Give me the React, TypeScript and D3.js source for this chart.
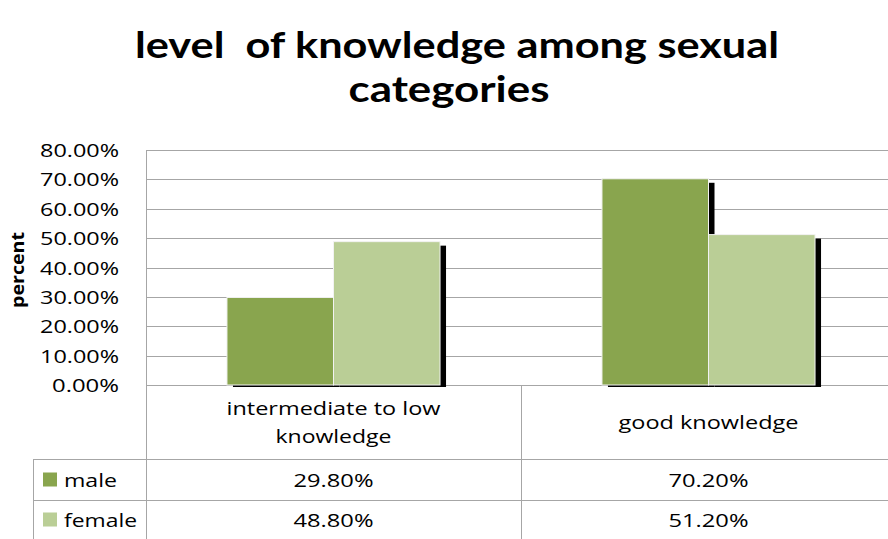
import React from "react";
import * as d3 from "d3";

const categories = ["intermediate to low knowledge", "good knowledge"];
const categoryLines = [["intermediate to low", "knowledge"], ["good knowledge"]];
const seriesNames = ["male", "female"];
const maleValues = [0.298, 0.702];
const femaleValues = [0.488, 0.512];
const yTicks = [0, 0.1, 0.2, 0.3, 0.4, 0.5, 0.6, 0.7, 0.8];
const tableLabels = [["29.80%", "70.20%"], ["48.80%", "51.20%"]];

const COLORS = ["#89A54E", "#BACE96"];
const FONT = "'Open Sans', 'DejaVu Sans', sans-serif";
const TITLE_FONT = "Lato, 'Open Sans', sans-serif";

export default function App() {
  const W = 888, H = 539;
  const left = 146, right = 896, top = 150, bottom = 385;
  const y = d3.scaleLinear().domain([0, 0.8]).range([bottom, top]);
  const x0 = d3.scaleBand<string>().domain(categories).range([left, right]).paddingInner(0).paddingOuter(0);
  const x1 = d3.scaleBand<string>().domain(seriesNames).range([0, x0.bandwidth()]).paddingInner(0).paddingOuter(0.76);
  const series = [maleValues, femaleValues];
  const rowY = [459, 500, 539];
  const grid = "#A6A6A6";
  const fmt = d3.format(".2%");

  const txt = (s: string, x: number, yy: number, len: number, size: number, anchor: string, extra: any = {}) => (
    <text x={x} y={yy} fontSize={size} textAnchor={anchor} textLength={len} lengthAdjust="spacingAndGlyphs" fill="#000" fontFamily={FONT} style={{ whiteSpace: "pre" }} {...extra}>{s}</text>
  );

  return (
    <svg width={W} height={H} style={{ position: "absolute", left: 0, top: 0, background: "#fff" }}>
      {/* title */}
      {txt("level  of knowledge among sexual", 457, 58, 644, 36, "middle", { fontWeight: 700, fontFamily: TITLE_FONT })}
      {txt("categories", 449, 102, 201, 36, "middle", { fontWeight: 700, fontFamily: TITLE_FONT })}

      {/* gridlines */}
      {yTicks.map((t) => (
        <line key={t} x1={left} x2={W} y1={Math.round(y(t)) + 0.5} y2={Math.round(y(t)) + 0.5} stroke={grid} strokeWidth={1} />
      ))}
      {/* tick labels */}
      {yTicks.map((t) => txt(fmt(t), 119, y(t) + 7, t === 0 ? 67 : 79, 19, "end", { key: "l" + t }))}

      {/* y axis title */}
      <g transform={`translate(24,270) rotate(-90)`}>
        {txt("percent", 0, 0, 76, 18, "middle", { fontWeight: 700 })}
      </g>

      {/* bars with shadows */}
      {categories.map((c, ci) => (
        <g key={c} transform={`translate(${x0(c)},0)`}>
          {seriesNames.map((s, si) => {
            const bx = x1(s)!;
            const bw = x1.bandwidth();
            const v = series[si][ci];
            return (
              <g key={s}>
                <rect x={bx + 6} y={y(v) + 4} width={bw} height={bottom + 2 - y(v) - 4} fill="#000" />
                <rect x={bx} y={y(v)} width={bw} height={bottom - y(v)} fill={COLORS[si]} stroke="#F2F2F2" strokeWidth={1} />
              </g>
            );
          })}
        </g>
      ))}

      {/* table lines */}
      <line x1={left + 0.5} x2={left + 0.5} y1={top} y2={H} stroke={grid} />
      <line x1={x0(categories[1])! + 0.5} x2={x0(categories[1])! + 0.5} y1={bottom} y2={H} stroke={grid} />
      <line x1={33.5} x2={33.5} y1={rowY[0]} y2={H} stroke={grid} />
      <line x1={33} x2={W} y1={rowY[0] + 0.5} y2={rowY[0] + 0.5} stroke={grid} />
      <line x1={33} x2={W} y1={rowY[1] + 0.5} y2={rowY[1] + 0.5} stroke={grid} />

      {/* category labels */}
      {categories.map((c, ci) => {
        const cx = x0(c)! + x0.bandwidth() / 2;
        const lines = categoryLines[ci];
        const widths = ci === 0 ? [214, 116] : [180];
        const ys = lines.length === 2 ? [415, 443] : [429];
        return lines.map((l, li) => txt(l, cx, ys[li], widths[li], 19, "middle", { key: c + li }));
      })}

      {/* legend keys + values */}
      {seriesNames.map((s, si) => {
        const cy = (rowY[si] + rowY[si + 1]) / 2;
        return (
          <g key={s}>
            <rect x={43} y={cy - 7} width={14} height={14} fill={COLORS[si]} />
            {txt(s, 64, cy + 7, si === 0 ? 53 : 73, 19, "start")}
            {categories.map((c, ci) => txt(tableLabels[si][ci], x0(c)! + x0.bandwidth() / 2, cy + 7, 80, 19, "middle", { key: c }))}
          </g>
        );
      })}
    </svg>
  );
}
